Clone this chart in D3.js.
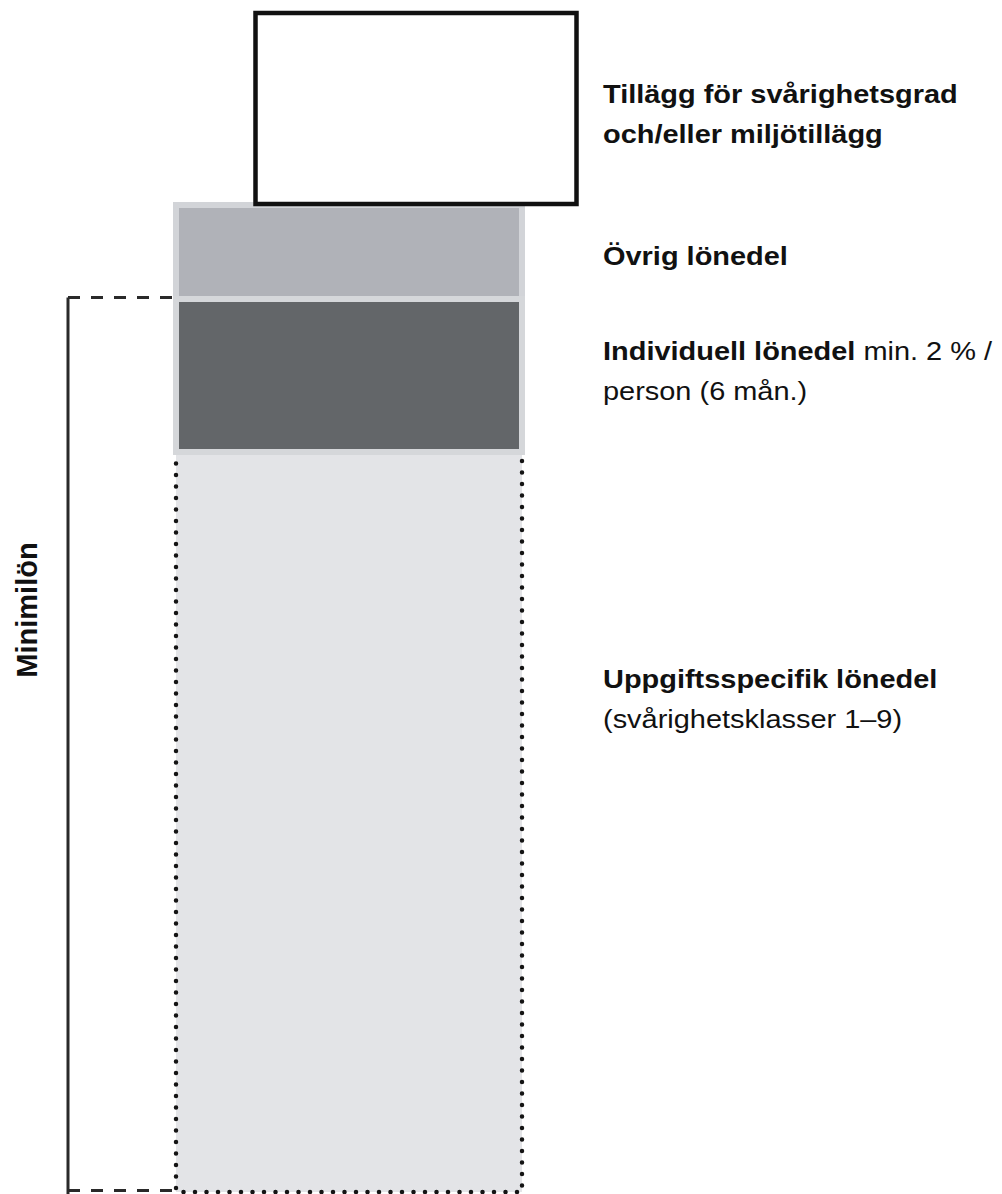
<!DOCTYPE html>
<html>
<head>
<meta charset="utf-8">
<script src="https://cdn.jsdelivr.net/npm/d3@7"></script>
<style>
  html, body { margin: 0; padding: 0; background: #fff; }
  text { font-family: "Liberation Sans", Arial, sans-serif; fill: #111; }
</style>
</head>
<body>
<div id="chart"></div>
<script>
// Segments of the salary column, bottom to top
var segment_names  = ['Uppgiftsspecifik lönedel', 'Individuell lönedel', 'Övrig lönedel', 'Tillägg'];
var segment_values = [74, 15.3, 9.7, 19];
var minimum_parts  = 2;   // Minimilön = first two segments

var label_bold = [
	['Tillägg för svårighetsgrad', 'och/eller miljötillägg'],
	['Övrig lönedel'],
	['Individuell lönedel', ''],
	['Uppgiftsspecifik lönedel', '']
];
var label_regular = [
	['', ''],
	[''],
	[' min. 2 % /', 'person (6 mån.)'],
	['', '(svårighetsklasser 1–9)']
];
var label_baselines = [[103, 143], [265], [360, 400], [688, 728]];
var bracket_label = 'Minimilön';

var chart_width  = 1002;
var chart_height = 1194;

var svg = d3.select('#chart')
	.append('svg')
	.attr('width', chart_width)
	.attr('height', chart_height);

// stacked values
var stack = [];
var acc = 0;
segment_values.forEach(function(v, i){
	stack.push({ name: segment_names[i], y0: acc, y1: acc + v });
	acc += v;
});

var y = d3.scaleLinear().domain([0, acc]).range([1192, 12]);

var col_left = 176, col_right = 522;
var box_left = 255.5, box_right = 576.5;

// base segment: light fill, dotted border
var base = stack[0];
svg.append('rect')
	.attr('x', col_left)
	.attr('y', y(base.y1))
	.attr('width', col_right - col_left)
	.attr('height', y(base.y0) - y(base.y1))
	.attr('fill', '#e3e4e7');

var dotted = d3.path();
dotted.moveTo(col_left, y(base.y1));
dotted.lineTo(col_left, y(base.y0));
dotted.lineTo(col_right, y(base.y0));
dotted.lineTo(col_right, y(base.y1));
svg.append('path')
	.attr('d', dotted.toString())
	.attr('fill', 'none')
	.attr('stroke', '#141414')
	.attr('stroke-width', 4.5)
	.attr('stroke-linecap', 'round')
	.attr('stroke-dasharray', '0 11.5');

// Övrig lönedel
var ovrig = stack[2];
svg.append('rect')
	.attr('x', col_left)
	.attr('y', y(ovrig.y1) + 3)
	.attr('width', col_right - col_left)
	.attr('height', y(ovrig.y0) - y(ovrig.y1))
	.attr('fill', '#b0b2b8')
	.attr('stroke', '#d2d4d8')
	.attr('stroke-width', 6);

// Individuell lönedel
var indiv = stack[1];
svg.append('rect')
	.attr('x', col_left)
	.attr('y', y(indiv.y1))
	.attr('width', col_right - col_left)
	.attr('height', y(indiv.y0) - y(indiv.y1))
	.attr('fill', '#636669')
	.attr('stroke', '#d5d7da')
	.attr('stroke-width', 6);

// Tillägg box
var extra = stack[3];
svg.append('rect')
	.attr('x', box_left)
	.attr('y', y(extra.y1) + 1)
	.attr('width', box_right - box_left)
	.attr('height', y(extra.y0) - y(extra.y1) + 1)
	.attr('fill', '#fff')
	.attr('stroke', '#111')
	.attr('stroke-width', 4.5);

// Minimilön bracket
var min_top = stack[minimum_parts - 1].y1;
var bx = 68;
svg.append('line')
	.attr('x1', bx).attr('x2', bx)
	.attr('y1', y(min_top) - 1.5).attr('y2', y(0) + 2)
	.attr('stroke', '#2a2a2a')
	.attr('stroke-width', 3);

[min_top, 0].forEach(function(v){
	svg.append('line')
		.attr('x1', bx).attr('x2', col_left - 3)
		.attr('y1', y(v) - 1.5).attr('y2', y(v) - 1.5)
		.attr('stroke', '#2a2a2a')
		.attr('stroke-width', 3)
		.attr('stroke-dasharray', '12 11');
});

svg.append('text')
	.attr('transform', 'translate(37,610) rotate(-90)')
	.attr('text-anchor', 'middle')
	.style('font-size', '29px')
	.style('font-weight', 'bold')
	.text(bracket_label);

// labels on the right
var labels = svg.append('g')
	.attr('transform', 'translate(603,0) scale(1.135,1)');

label_bold.forEach(function(lines, i){
	lines.forEach(function(b, j){
		var t = labels.append('text')
			.attr('x', 0)
			.attr('y', label_baselines[i][j])
			.style('font-size', '25.5px');
		if (b) t.append('tspan').style('font-weight', 'bold').text(b);
		var r = label_regular[i][j];
		if (r) t.append('tspan').attr('xml:space', 'preserve').style('white-space', 'pre').text(r);
	});
});
</script>
</body>
</html>
